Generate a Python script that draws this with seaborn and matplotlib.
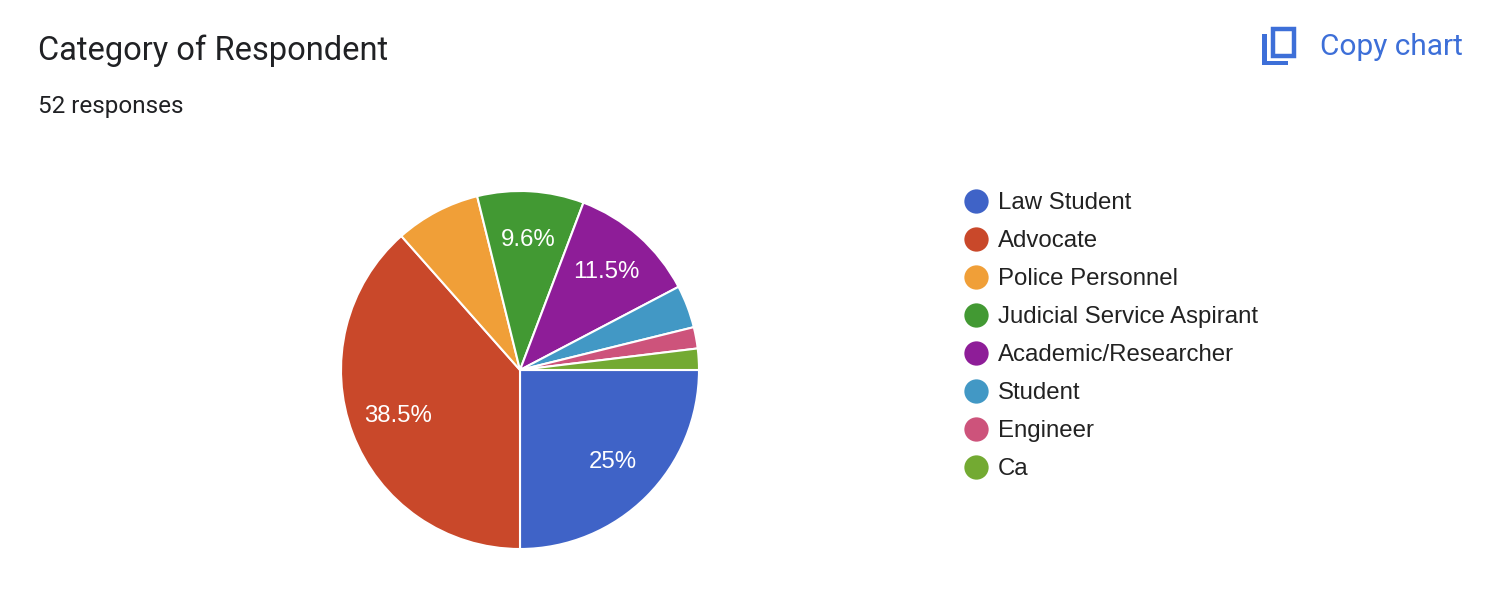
import matplotlib.pyplot as plt
import seaborn as sns
from matplotlib.lines import Line2D
from matplotlib.patches import Rectangle

# 数据
categories = ["Law Student", "Advocate", "Police Personnel", "Judicial Service Aspirant",
              "Academic/Researcher", "Student", "Engineer", "Ca"]
counts = [13, 20, 4, 5, 6, 2, 1, 1]
colors = ["#3f63c7", "#c9482a", "#f09f38", "#429933", "#8e1d98", "#4298c5", "#cd537b", "#73aa32"]
title = "Category of Respondent"
subtitle = "52 responses"

sns.set_theme(style="white")
plt.rcParams["font.family"] = ["Liberation Sans", "DejaVu Sans"]

W, H = 1512, 606
fig = plt.figure(figsize=(W / 100, H / 100), dpi=100)
fig.patch.set_facecolor("white")

# 饼图位置（像素）
cx, cy, r = 520, 370, 179
ax = fig.add_axes([(cx - r) / W, (H - cy - r) / H, 2 * r / W, 2 * r / H])


def pct_label(p):
    return f"{p:.1f}%".replace(".0%", "%") if p >= 9 else ""


ax.pie(counts, colors=colors, startangle=0, counterclock=False, radius=1,
       autopct=pct_label, pctdistance=0.73,
       wedgeprops=dict(edgecolor="white", linewidth=1.5),
       textprops=dict(color="white", fontsize=17.3))
ax.set_xlim(-1, 1)
ax.set_ylim(-1, 1)
ax.set_aspect("equal")
ax.axis("off")

# 标题
fig.text(38 / W, 1 - 51 / H, title, fontsize=23.5, family=["Roboto", "DejaVu Sans"],
         color="#202124", va="center", ha="left")
fig.text(38 / W, 1 - 106 / H, subtitle, fontsize=17.5, family=["Roboto", "DejaVu Sans"],
         color="#202124", va="center", ha="left")

# 图例
for i, (name, col) in enumerate(zip(categories, colors)):
    y = 1 - (201 + 38 * i) / H
    fig.add_artist(Line2D([976 / W], [y], marker="o", markersize=17.5, color=col,
                          markeredgewidth=0, transform=fig.transFigure))
    fig.text(998 / W, y - 2 / H, name, fontsize=17.3, color="#222222", va="center", ha="left")

# Copy chart 按钮
blue = "#3d6fd8"
t = fig.dpi_scale_trans


def px_rect(x0, y0, x1, y1, **kw):
    return Rectangle((x0 / 100, (H - y1) / 100), (x1 - x0) / 100, (y1 - y0) / 100,
                     transform=t, **kw)


fig.add_artist(px_rect(1273, 29, 1294, 56, fill=False, edgecolor=blue, linewidth=3.2))
fig.add_artist(px_rect(1262, 34, 1267, 65, facecolor=blue, edgecolor="none"))
fig.add_artist(px_rect(1262, 61, 1288, 65, facecolor=blue, edgecolor="none"))
fig.text(1320 / W, 1 - 47 / H, "Copy chart", fontsize=21.5, family=["Roboto", "DejaVu Sans"],
         color=blue, va="center", ha="left")

fig.savefig("out.png", dpi=100, facecolor="white")
